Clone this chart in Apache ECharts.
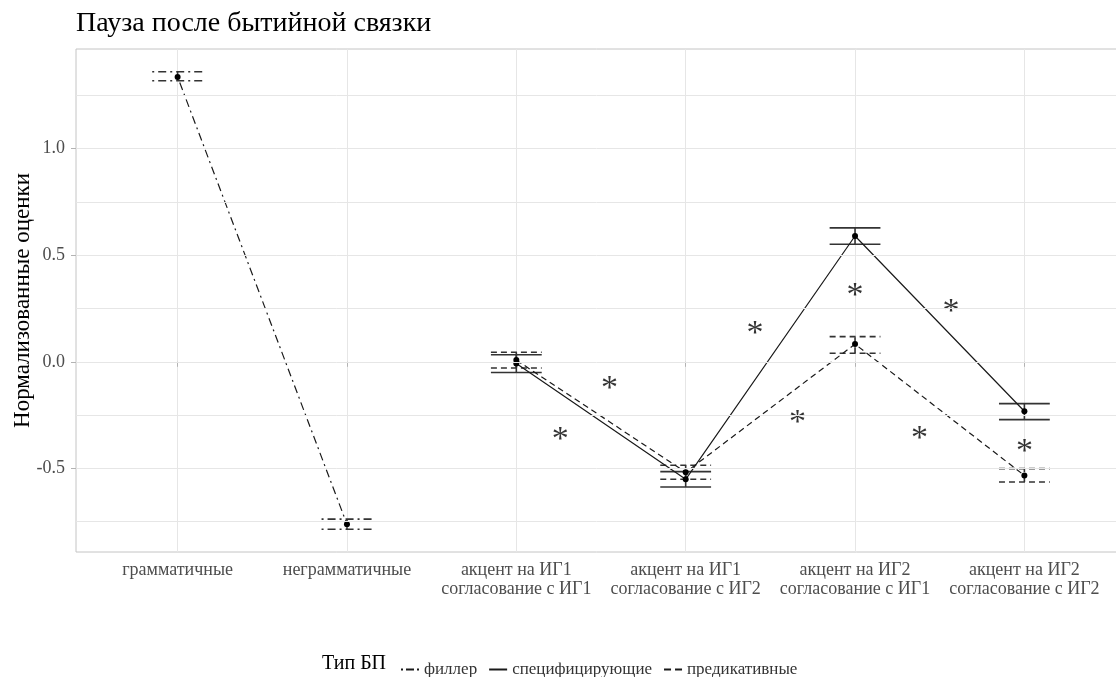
<!DOCTYPE html>
<html>
<head>
<meta charset="utf-8">
<script src="https://cdn.jsdelivr.net/npm/echarts@6/dist/echarts.min.js"></script>
<style>html,body{margin:0;padding:0;background:#fff;}#c{width:1116px;height:677px;}</style>
</head>
<body>
<div id="c"></div>
<script>
// ---- data ----
const categories = ['грамматичные', 'неграмматичные', 'акцент на ИГ1\nсогласование с ИГ1', 'акцент на ИГ1\nсогласование с ИГ2', 'акцент на ИГ2\nсогласование с ИГ1', 'акцент на ИГ2\nсогласование с ИГ2'];
const yTickLabels = [-0.5, 0.0, 0.5, 1.0];
const yGridValues = [-0.75, -0.5, -0.25, 0, 0.25, 0.5, 0.75, 1.0, 1.25];

const fillerX = [1, 2];
const fillerMean = [1.336, -0.762];
const fillerLow = [1.318, -0.785];
const fillerHigh = [1.360, -0.738];

const specX = [3, 4, 5, 6];
const specMean = [-0.008, -0.551, 0.590, -0.232];
const specLow = [-0.050, -0.587, 0.551, -0.271];
const specHigh = [0.033, -0.515, 0.628, -0.196];

const predX = [3, 4, 5, 6];
const predMean = [0.008, -0.518, 0.083, -0.533];
const predLow = [-0.029, -0.551, 0.040, -0.564];
const predHigh = [0.045, -0.485, 0.118, -0.501];

const starX = [3.26, 3.55, 4.41, 4.66, 5.0, 5.38, 5.566, 6.0];
const starY = [-0.341, -0.098, 0.159, -0.257, 0.336, -0.332, 0.262, -0.393];

const names = ['филлер', 'специфицирующие', 'предикативные'];
const legendTitle = 'Тип БП';
// ---- styles ----
const FONT = 'Liberation Serif';
const dotdash = [2, 4, 8, 4];
const dashed = [6, 4];
const LINE_COLOR = '#1a1a1a';
const BAR_COLOR = '#333333';

function zip2(a, b) { return a.map((v, i) => [v, b[i]]); }
function zip3(a, b, c) { return a.map((v, i) => [v, b[i], c[i]]); }

function errRenderer(dash) {
  return function (params, api) {
    const x = api.value(0), lo = api.value(1), hi = api.value(2);
    const w = 0.15;
    const a1 = api.coord([x - w, lo]), a2 = api.coord([x + w, lo]);
    const b1 = api.coord([x - w, hi]), b2 = api.coord([x + w, hi]);
    const c1 = api.coord([x, lo]), c2 = api.coord([x, hi]);
    const style = { stroke: BAR_COLOR, lineWidth: 1.6, lineDash: dash, fill: null };
    return {
      type: 'group',
      children: [
        { type: 'line', shape: { x1: a1[0], y1: a1[1], x2: a2[0], y2: a2[1] }, style: style },
        { type: 'line', shape: { x1: b1[0], y1: b1[1], x2: b2[0], y2: b2[1] }, style: style },
        { type: 'line', shape: { x1: c1[0], y1: c1[1], x2: c2[0], y2: c2[1] }, style: style }
      ]
    };
  };
}

function lineSeries(name, xs, ys, dash) {
  return {
    name: name, type: 'line', data: zip2(xs, ys),
    symbol: 'circle', symbolSize: 6, showSymbol: true,
    itemStyle: { color: '#000' },
    lineStyle: { color: LINE_COLOR, width: 1.2, type: dash },
    z: 3, animation: false
  };
}
function errSeries(name, xs, lo, hi, dash) {
  return {
    name: name, type: 'custom', data: zip3(xs, lo, hi),
    renderItem: errRenderer(dash), encode: { x: 0, y: [1, 2] },
    z: 2, animation: false, silent: true
  };
}

const chart = echarts.init(document.getElementById('c'), null, { renderer: 'canvas' });
const option = {
  animation: false,
  backgroundColor: '#fff',
  title: {
    text: 'Пауза после бытийной связки', left: 71, top: 5,
    textStyle: { fontFamily: FONT, fontSize: 28, fontWeight: 'normal', color: '#000' }
  },
  grid: { left: 76, top: 49, width: 1050, height: 503, show: true, borderColor: '#c4c4c4', borderWidth: 1, containLabel: false, outerBoundsMode: 'none' },
  xAxis: {
    type: 'value', min: 0.4, max: 6.6,
    axisLine: { show: false },
    axisTick: { show: true, customValues: [1, 2, 3, 4, 5, 6], length: 5, lineStyle: { color: '#b3b3b3' } },
    splitLine: { show: true, lineStyle: { color: '#e6e6e6', width: 1 } },
    axisLabel: {
      customValues: [1, 2, 3, 4, 5, 6], margin: 9,
      formatter: function (v) { return categories[Math.round(v) - 1] || ''; },
      fontFamily: FONT, fontSize: 18, color: '#4d4d4d', lineHeight: 19
    }
  },
  yAxis: {
    type: 'value', min: -0.892, max: 1.467,
    name: 'Нормализованные оценки', nameLocation: 'middle', nameGap: 42, nameRotate: 90,
    nameMoveOverlap: false,
    nameTextStyle: { fontFamily: FONT, fontSize: 23, color: '#000' },
    axisLine: { show: false },
    axisTick: { show: true, customValues: yTickLabels, length: 5, lineStyle: { color: '#b3b3b3' } },
    splitLine: { show: false },
    axisLabel: {
      customValues: yTickLabels, margin: 11,
      formatter: function (v) { return v.toFixed(1); },
      fontFamily: FONT, fontSize: 18, color: '#4d4d4d'
    }
  },
  legend: {
    data: [
      { name: names[0], icon: 'path://M0,0h2v2h-2zM5,0h8v2h-8zM16,0h2v2h-2z' },
      { name: names[1], icon: 'path://M0,0h18v2h-18z' },
      { name: names[2], icon: 'path://M0,0h7v2h-7zM11,0h7v2h-7z' }
    ],
    left: 396, top: 656, itemWidth: 18, itemHeight: 14, itemGap: 12,
    textStyle: { fontFamily: FONT, fontSize: 17, color: '#333' },
    itemStyle: { color: '#1a1a1a' }, selectedMode: false
  },
  graphic: [
    { type: 'text', left: 322, top: 654, style: { text: legendTitle, fontFamily: FONT, fontSize: 20, fill: '#000' } }
  ],
  series: [
    {
      type: 'line', data: [], silent: true, z: 0,
      markLine: {
        symbol: 'none', silent: true, label: { show: false },
        lineStyle: { color: '#e6e6e6', width: 1, type: 'solid' },
        data: yGridValues.map(v => ({ yAxis: v }))
      }
    },
    errSeries(names[0], fillerX, fillerLow, fillerHigh, dotdash),
    errSeries(names[1], specX, specLow, specHigh, null),
    errSeries(names[2], predX, predLow, predHigh, dashed),
    lineSeries(names[0], fillerX, fillerMean, dotdash),
    lineSeries(names[1], specX, specMean, 'solid'),
    lineSeries(names[2], predX, predMean, dashed),
    {
      type: 'scatter', data: zip2(starX, starY), symbolSize: 1,
      itemStyle: { color: 'rgba(0,0,0,0)' }, silent: true, z: 4,
      label: {
        show: true, position: 'inside', formatter: '*', offset: [0, 6],
        fontFamily: FONT, fontSize: 34, color: '#000'
      }
    }
  ]
};
chart.setOption(option);
</script>
</body>
</html>
